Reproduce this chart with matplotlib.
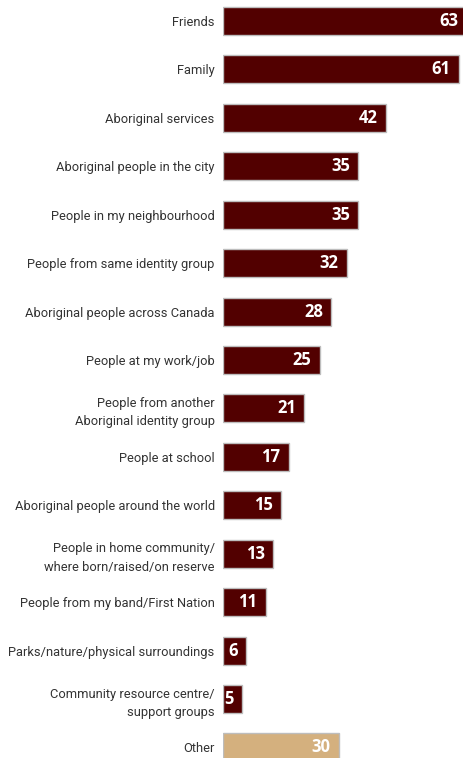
import matplotlib.pyplot as plt

categories = ['Friends', 'Family', 'Aboriginal services', 'Aboriginal people in the city',
              'People in my neighbourhood', 'People from same identity group',
              'Aboriginal people across Canada', 'People at my work/job',
              'People from another\nAboriginal identity group', 'People at school',
              'Aboriginal people around the world',
              'People in home community/\nwhere born/raised/on reserve',
              'People from my band/First Nation', 'Parks/nature/physical surroundings',
              'Community resource centre/\nsupport groups', 'Other']
values = [63, 61, 42, 35, 35, 32, 28, 25, 21, 17, 15, 13, 11, 6, 5, 30]
colors = ['#520000'] * 15 + ['#D4B07E']

def main():
    fig = plt.figure(figsize=(4.63, 7.58), dpi=100)
    ax = fig.add_axes([0.4816, 0, 0.5184, 1])
    ypos = list(range(len(values)))
    ax.barh(ypos, values, height=0.58, color=colors, edgecolor='#BDBDBD', linewidth=1)
    ax.set_xlim(0, 62.0)
    ax.set_ylim(15.218, -0.4336)
    ax.set_yticks(ypos)
    ax.set_yticklabels(categories, fontsize=9.3, family='Roboto', color='#333333',
                       linespacing=1.55)
    ax.tick_params(axis='y', length=0, pad=6)
    ax.set_xticks([])
    for s in ax.spines.values():
        s.set_visible(False)
    # etiquetas de valor
    for y, v in zip(ypos, values):
        ax.annotate(str(v), (v, y), xytext=(-6, 0), textcoords='offset points',
                    ha='right', va='center', color='white', fontsize=12,
                    fontweight='bold', family='Open Sans', annotation_clip=False)
    fig.savefig('out.png', dpi=100)
    plt.close(fig)

if __name__ == '__main__':
    main()
